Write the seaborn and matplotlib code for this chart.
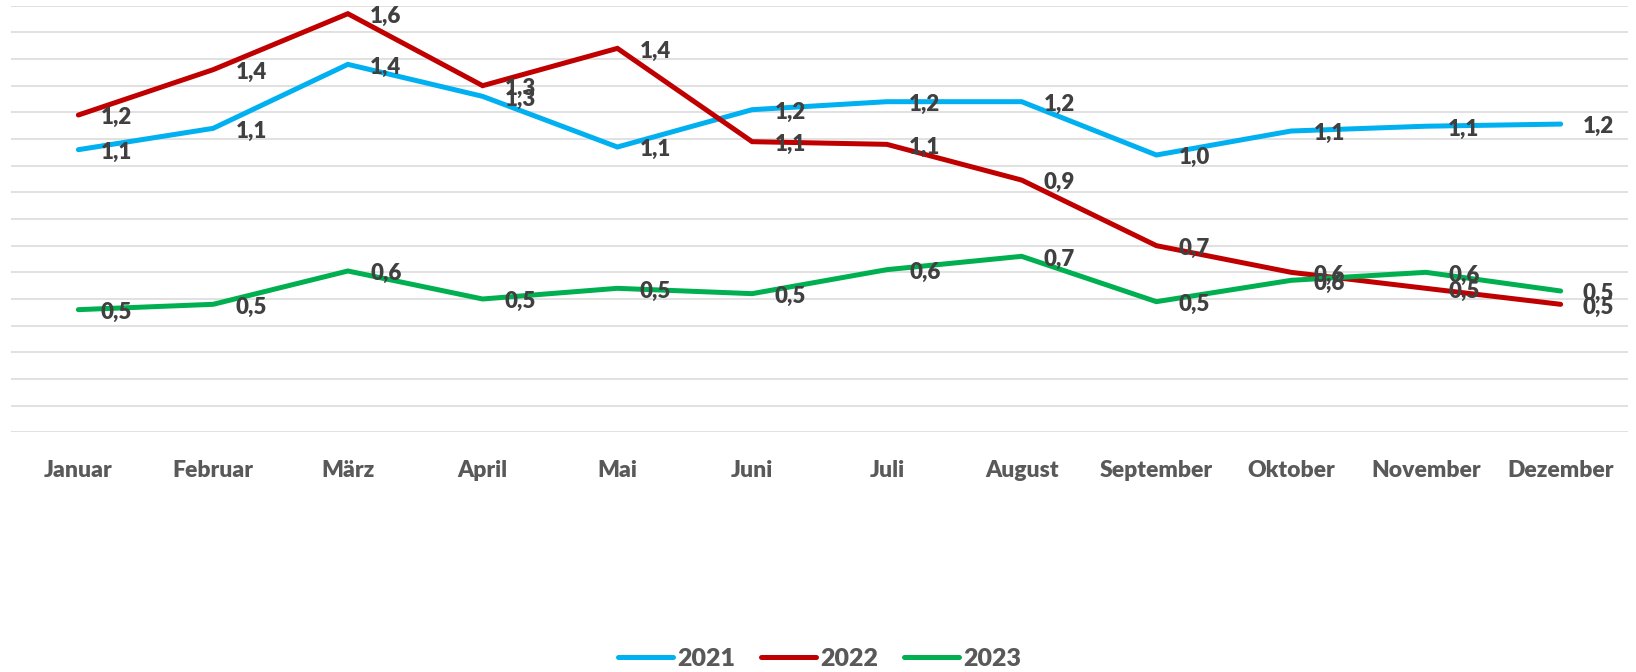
import matplotlib
matplotlib.use("Agg")
import matplotlib.pyplot as plt
import seaborn as sns
import pandas as pd

months = ["Januar", "Februar", "März", "April", "Mai", "Juni", "Juli",
          "August", "September", "Oktober", "November", "Dezember"]
years = ["2021", "2022", "2023"]
v2021 = [1.06, 1.14, 1.38, 1.26, 1.07, 1.21, 1.24, 1.24, 1.04, 1.13, 1.148, 1.156]
v2022 = [1.19, 1.36, 1.57, 1.30, 1.44, 1.09, 1.08, 0.946, 0.70, 0.60, 0.54, 0.48]
v2023 = [0.46, 0.48, 0.605, 0.50, 0.54, 0.52, 0.61, 0.66, 0.49, 0.57, 0.60, 0.53]
colors = ["#00B0F0", "#C00000", "#00B050"]

df = pd.DataFrame({
    "Monat": months * 3,
    "Jahr": [y for y in years for _ in months],
    "Wert": v2021 + v2022 + v2023,
})

sns.set_theme(style="white")
plt.rcParams["font.family"] = ["Lato", "DejaVu Sans"]

fig = plt.figure(figsize=(16.36, 6.72), dpi=100)
ax = fig.add_axes([11 / 1636, 1 - 432.3 / 672, (1628 - 11) / 1636, (432.3 - 5.7) / 672])

sns.lineplot(data=df, x="Monat", y="Wert", hue="Jahr", palette=colors,
             linewidth=3.6, ax=ax, sort=False, legend=True)
for ln in ax.get_lines():
    ln.set_solid_capstyle("round")
    ln.set_solid_joinstyle("miter")

ax.set_xlim(-0.5, 11.5)
ax.set_ylim(0, 1.6)
ax.set_yticks([i * 0.1 for i in range(17)])
ax.yaxis.grid(True, color="#D9D9D9", linewidth=1.1)
ax.set_axisbelow(True)
ax.tick_params(axis="y", left=False, labelleft=False)
ax.tick_params(axis="x", bottom=False, pad=14)
for lab in ax.get_xticklabels():
    lab.set_fontweight("heavy")
    lab.set_fontsize(16.5)
    lab.set_color("#595959")
ax.set_xlabel("")
ax.set_ylabel("")
for s in ax.spines.values():
    s.set_visible(False)

for vals in [v2021, v2022, v2023]:
    for i, v in enumerate(vals):
        ax.annotate(f"{v:.1f}".replace(".", ","), (i, v), xytext=(16, -2),
                    textcoords="offset points", ha="left", va="center",
                    fontsize=16, fontweight="heavy", color="#404040")

handles, labels = ax.get_legend_handles_labels()
ax.legend(handles, labels, loc="center", bbox_to_anchor=(0.5, (1 - 659 / 672 - (1 - 432.3 / 672)) / ((432.3 - 5.7) / 672)),
          ncol=3, frameon=False, handlelength=2.2, handletextpad=0.2,
          columnspacing=1.0, prop={"weight": "heavy", "size": 18})
for t in ax.get_legend().get_texts():
    t.set_color("#595959")
for h in ax.get_legend().get_lines():
    h.set_solid_capstyle("round")

fig.savefig("out.png", dpi=100)
